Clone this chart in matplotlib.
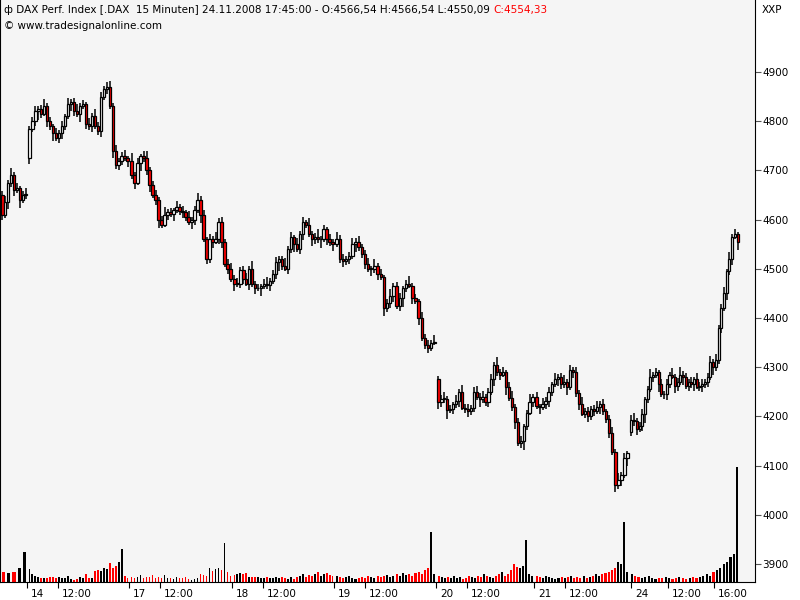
import matplotlib
matplotlib.use("Agg")
import matplotlib.pyplot as plt
from matplotlib.patches import Rectangle
import matplotlib.transforms as mtrans

# ---------------- data ----------------
day_labels = ["13", "14", "17", "18", "19", "20", "21", "24"]
day_open = [4650, 4725, 4720, 4480, 4550, 4276, 4240, 4168]
closes_13 = [4610, 4635, 4675, 4690, 4660, 4665, 4640, 4650, 4650]
closes_14 = [4785, 4800, 4820, 4825, 4815, 4830, 4800, 4790, 4775, 4765, 4775, 4790,
             4810, 4835, 4840, 4820, 4815, 4830, 4835, 4795, 4790, 4810, 4790, 4780,
             4850, 4865, 4870, 4830, 4740, 4710, 4720, 4730, 4725, 4720]
closes_17 = [4690, 4675, 4715, 4730, 4725, 4700, 4670, 4650, 4640, 4600, 4590, 4610,
             4615, 4612, 4620, 4625, 4618, 4615, 4605, 4595, 4600, 4620, 4640, 4610,
             4560, 4520, 4560, 4555, 4560, 4595, 4555, 4510, 4500, 4480]
closes_18 = [4470, 4470, 4498, 4480, 4470, 4500, 4470, 4460, 4460, 4465, 4470, 4468,
             4475, 4490, 4513, 4520, 4505, 4500, 4540, 4565, 4550, 4540, 4570, 4595,
             4590, 4570, 4560, 4565, 4560, 4560, 4580, 4560, 4555, 4550]
closes_19 = [4560, 4520, 4515, 4520, 4525, 4550, 4555, 4545, 4530, 4510, 4500, 4500,
             4505, 4490, 4483, 4420, 4430, 4445, 4465, 4425, 4440, 4460, 4470, 4465,
             4440, 4435, 4400, 4360, 4345, 4340, 4350, 4352]
closes_20 = [4230, 4235, 4235, 4212, 4215, 4225, 4232, 4250, 4217, 4215, 4210, 4218,
             4250, 4240, 4235, 4240, 4230, 4250, 4275, 4305, 4290, 4285, 4290, 4260,
             4238, 4220, 4188, 4145, 4150, 4180, 4207, 4230, 4240]
closes_21 = [4222, 4220, 4225, 4232, 4250, 4265, 4275, 4280, 4265, 4270, 4260, 4295,
             4290, 4248, 4225, 4205, 4210, 4200, 4215, 4210, 4220, 4225, 4210, 4195,
             4166, 4128, 4061, 4070, 4080, 4115, 4126]
closes_24 = [4193, 4190, 4175, 4180, 4205, 4235, 4255, 4280, 4285, 4290, 4265, 4245,
             4245, 4265, 4285, 4280, 4262, 4270, 4285, 4280, 4262, 4270, 4265, 4275,
             4260, 4262, 4265, 4270, 4280, 4310, 4300, 4315, 4380, 4420, 4450, 4495,
             4520, 4565, 4570, 4554]
wick_hi = [8, 12, 5, 15, 6, 10, 4, 9, 14, 6, 8, 11, 5, 7, 16, 6, 9, 4, 12, 7,
           10, 5, 13, 6, 8, 15, 7, 9, 5, 11, 6, 14, 8, 10, 6, 9, 12, 7, 11, 6]
wick_lo = [10, 6, 14, 8, 12, 5, 16, 7, 9, 13, 6, 10, 18, 8, 5, 11, 7, 15, 6, 9,
           12, 8, 5, 14, 10, 7, 17, 6, 11, 8, 13, 5, 9, 12, 7, 10, 6, 15, 8, 9]
vol_13 = [10, 9, 10, 14, 30]
vol_14 = [13, 8, 6, 5, 4, 4, 4, 5, 5, 4, 5, 4, 4, 6, 3, 2, 3, 5, 4, 8, 4, 4, 11, 12,
          11, 14, 13, 19, 14, 16, 20, 33, 6, 4]
vol_17 = [5, 4, 5, 7, 4, 5, 5, 7, 4, 5, 4, 7, 4, 4, 3, 5, 4, 4, 5, 3, 2, 3, 4, 8, 7,
          6, 14, 11, 13, 14, 12, 39, 10, 6]
vol_18 = [7, 8, 9, 8, 9, 5, 5, 5, 5, 4, 4, 5, 4, 4, 5, 4, 5, 4, 3, 5, 3, 5, 6, 8, 5,
          7, 6, 8, 10, 6, 8, 9, 7, 6]
vol_19 = [6, 5, 4, 5, 6, 4, 3, 4, 5, 4, 6, 5, 4, 6, 5, 6, 7, 5, 6, 8, 6, 9, 7, 8, 6,
          9, 10, 8, 12, 14, 50, 8]
vol_20 = [6, 5, 4, 5, 4, 6, 4, 5, 3, 4, 6, 5, 4, 6, 5, 8, 6, 5, 4, 6, 8, 10, 6, 8, 12,
          18, 15, 14, 16, 42, 8, 6]
vol_21 = [6, 5, 4, 6, 5, 4, 3, 4, 5, 4, 5, 6, 4, 5, 4, 6, 4, 5, 6, 8, 6, 8, 9, 10, 12,
          14, 20, 18, 60, 10]
vol_24 = [8, 6, 5, 4, 5, 6, 4, 3, 4, 4, 5, 4, 3, 4, 5, 4, 3, 4, 5, 4, 5, 6, 8, 6, 10,
          12, 14, 18, 20, 25, 28, 115]
price_ticks = [3900, 4000, 4100, 4200, 4300, 4400, 4500, 4600, 4700, 4800, 4900]
x_tick_labels = ["14", "12:00", "17", "12:00", "18", "12:00", "19", "12:00",
                 "20", "12:00", "21", "12:00", "24", "12:00", "16:00"]

closes = [closes_13, closes_14, closes_17, closes_18, closes_19, closes_20, closes_21, closes_24]
vols = [vol_13, vol_14, vol_17, vol_18, vol_19, vol_20, vol_21, vol_24]

# layout (pixel units on x)
day_start = [1, 28, 130, 233, 335, 437, 535, 630]
day_width = [26, 101, 102, 101, 101, 97, 94, 109]
x_tick_pos = [27, 58, 129, 160, 232, 263, 334, 365, 436, 467, 534, 565, 631, 668, 714]

fig = plt.figure(figsize=(8, 6), dpi=100)
ax = fig.add_axes([0.0, 18/600, 755/800, 582/600])
ax.set_xlim(0, 755)
ax.set_ylim(3863.4, 5046.3)
vax = ax.twinx()
vax.set_ylim(0, 582)
vax.set_zorder(0)
ax.set_zorder(1)
ax.patch.set_visible(False)
vax.patch.set_visible(True)
vax.set_facecolor("#f5f5f5")
for s in vax.spines.values():
    s.set_visible(False)
vax.set_yticks([])

k = 0
for d in range(len(closes)):
    cl = closes[d]
    n = len(cl)
    sp = day_width[d] / n
    prev = day_open[d]
    colors = []
    for j, c in enumerate(cl):
        o = prev
        x = day_start[d] + (j + 0.5) * sp
        up = c >= o
        hi = max(o, c) + wick_hi[k % len(wick_hi)]
        lo = min(o, c) - wick_lo[k % len(wick_lo)]
        ax.plot([x, x], [lo, hi], color="black", lw=1.1, zorder=2, solid_capstyle="butt")
        ax.add_patch(Rectangle((x - sp * 0.38, min(o, c)), sp * 0.76, max(abs(c - o), 1.5),
                               facecolor="white" if up else "#ff0000",
                               edgecolor="black", lw=0.9, zorder=3))
        colors.append("black" if up else "#ff0000")
        prev = c
        k += 1
    v = vols[d]
    m = len(v)
    vsp = day_width[d] / m
    for j, h in enumerate(v):
        x = day_start[d] + (j + 0.5) * vsp
        ci = min(int(round(j * n / m)), n - 1)
        col = "black" if h >= 25 else colors[ci]
        vax.bar(x, h, width=vsp * 0.65, color=col, linewidth=0)

ax.spines["top"].set_visible(False)
ax.yaxis.tick_right()
ax.set_yticks(price_ticks)
ax.set_yticklabels([str(p) for p in price_ticks], fontsize=7.5)
ax.tick_params(axis="y", direction="out", length=4, width=0.8, pad=1, colors="#555555",
               labelcolor="black")
ax.set_xticks(x_tick_pos)
ax.set_xticklabels(x_tick_labels, fontsize=7.5)
ax.tick_params(axis="x", direction="out", length=4, width=0.8, pad=1)
offset = mtrans.ScaledTranslation(4/100, 0, fig.dpi_scale_trans)
for lab in ax.get_xticklabels():
    lab.set_horizontalalignment("left")
    lab.set_transform(lab.get_transform() + offset)

t1 = ax.text(4, 5046.3 - 10/0.492, "ф DAX Perf. Index [.DAX  15 Minuten] 24.11.2008 17:45:00 - O:4566,54 H:4566,54 L:4550,09 ",
             fontsize=7.5, va="center", ha="left")
fig.canvas.draw()
bb = t1.get_window_extent()
fig.text(bb.x1 / 800, 1 - 10/600, "C:4554,33", color="#ff0000", fontsize=7.5, va="center", ha="left")
ax.text(4, 5046.3 - 26/0.492, "© www.tradesignalonline.com", fontsize=7.5, va="center", ha="left")
fig.text(762/800, 1 - 10/600, "XXP", fontsize=7.5, va="center", ha="left")

fig.savefig("out.png", dpi=100, facecolor="white")
